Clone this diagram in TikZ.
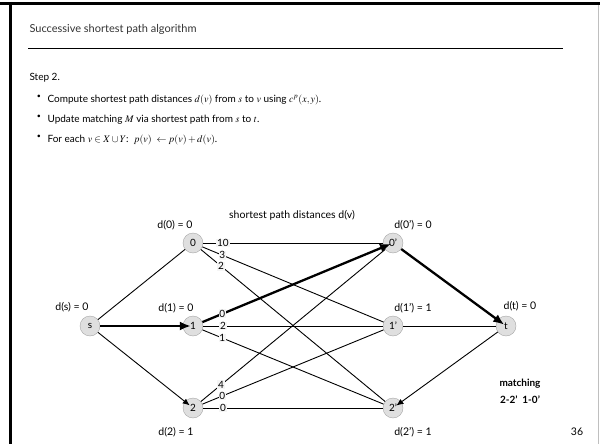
\documentclass[tikz,border=0pt]{standalone}
\usepackage{mathptmx}
\usepackage{fontspec}
\setmainfont{Lato}
\usepackage{tikz}
\usetikzlibrary{arrows.meta}

\begin{document}
\begin{tikzpicture}[x=1pt,y=-1pt,
    vtx/.style={circle,draw=gray!70,fill=gray!25,minimum size=20pt,inner sep=0pt,font=\fontsize{10}{11}\selectfont},
    arc/.style={line width=0.9pt},
    aug/.style={line width=2.3pt,-{Latex[length=11pt,width=9pt]},shorten >=-8pt},
    tip/.style={-{Latex[length=7pt,width=6pt]},shorten >=-6pt},
    cst/.style={fill=gray!8,inner sep=0.8pt,font=\fontsize{10}{11}\selectfont},
    dist/.style={font=\fontsize{10.5}{12}\selectfont},
    txt/.style={anchor=west,font=\fontsize{10}{12}\selectfont}]
  \useasboundingbox (0,0) rectangle (600,444);
  % slide frame
  \draw[line width=3pt] (0,3.5) -- (600,3.5);
  \draw[line width=3pt] (10.5,2) -- (10.5,444);
  \draw[gray!50,line width=0.8pt] (598.5,5) -- (598.5,444);

  % title and text
  \node[anchor=west,font=\fontsize{11}{12}\selectfont,text=black!80] (title) at (26,29) {Successive shortest path algorithm};
  \draw[line width=0.8pt] (28,48) -- (563,48);
  \node[txt] (step) at (26,78) {Step 2.};
  \node[font=\fontsize{7}{7}\selectfont] (p1) at (39,97) {\textbullet};
  \node[font=\fontsize{7}{7}\selectfont] (p2) at (39,117) {\textbullet};
  \node[font=\fontsize{7}{7}\selectfont] (p3) at (39,137) {\textbullet};
  \node[txt] (l1) at (44,100) {Compute shortest path distances $d(v)$ from $s$ to $v$ using $c^p(x,y)$.};
  \node[txt] (l2) at (44,120) {Update matching $M$ via shortest path from $s$ to $t$.};
  \node[txt] (l3) at (44,140) {For each $v\in X\cup Y$:\ \ $p(v)\ \leftarrow p(v)+d(v)$.};

  % vertices
  \node[vtx] (s) at (90,326) {s};
  \node[vtx] (a0) at (193,243) {0};
  \node[vtx] (a1) at (193,326) {1};
  \node[vtx] (a2) at (193,408) {2};
  \node[vtx] (b0) at (393,243) {0'};
  \node[vtx] (b1) at (393,326) {1'};
  \node[vtx] (b2) at (393,408) {2'};
  \node[vtx] (t) at (506,326) {t};

  % arcs
  \draw[arc] (s) -- (a0);
  \draw[arc,tip] (s) -- (a2);
  \draw[aug] (s) -- (a1);
  \foreach \i/\j/\c in {0/0/10,0/1/3,0/2/2,1/1/2,1/2/1,2/0/4,2/1/0,2/2/0}
    \draw[arc] (a\i) -- node[cst,pos=.11] {\c} (b\j);
  \draw[aug] (a1) -- node[cst,pos=.11] {0} (b0);
  \draw[aug] (b0) -- (t);
  \draw[arc] (b1) -- (t);
  \draw[arc,tip] (t) -- (b2);

  % distances
  \node[dist] (hd) at (292,215) {shortest path distances d(v)};
  \node[dist] (ds) at (72,307) {d(s) = 0};
  \node[dist] (d0) at (175,225) {d(0) = 0};
  \node[dist] (d1) at (176,308) {d(1) = 0};
  \node[dist] (d2) at (176,432) {d(2) = 1};
  \node[dist] (e0) at (413,225) {d(0') = 0};
  \node[dist] (e1) at (413,308) {d(1') = 1};
  \node[dist] (e2) at (413,432) {d(2') = 1};
  \node[dist] (dt) at (520,306) {d(t) = 0};

  \node[dist,font=\fontsize{10}{11}\selectfont\bfseries] (mt) at (520,384) {matching};
  \node[dist,font=\fontsize{10}{11}\selectfont\bfseries] (mm) at (520,400) {2-2'\ \ 1-0'};
  \node[dist] (pg) at (577,432) {36};
\end{tikzpicture}
\end{document}
